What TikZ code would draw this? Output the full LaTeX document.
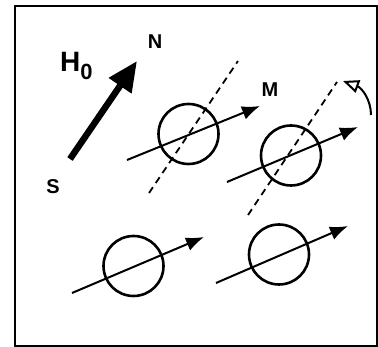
\documentclass[tikz,border=0pt]{standalone}
\usepackage{fontspec}
\setmainfont{Liberation Sans}
\usetikzlibrary{arrows.meta}

\begin{document}
\begin{tikzpicture}[x=1pt, y=-1pt,
    spin/.style={circle, draw, line width=2.6pt, inner sep=0pt, minimum size=60pt},
    moment/.style={-{Latex[length=18pt, width=14pt]}, line width=2pt},
    axisline/.style={line width=1.8pt, dash pattern=on 7pt off 5pt},
    field/.style={-{Triangle[length=30pt, width=26pt]}, line width=6.5pt},
    lbl/.style={font=\bfseries\fontsize{20}{20}\selectfont, inner sep=0pt}
  ]
    \useasboundingbox (0,0) rectangle (378,347);
    \draw[line width=1.5pt] (15,6) rectangle (377,346);

    % field
    \coordinate (south) at (70,159);
    \coordinate (north) at (137,61);
    \draw[field] (south) -- (north);
    \node[lbl] (nlabel) at (155,42) {N};
    \node[lbl] (slabel) at (53,187) {S};
    \node[lbl, anchor=base west] (hlabel) at (60,72) {{\fontsize{28}{28}\selectfont H}\raisebox{-8pt}{\fontsize{22}{22}\selectfont 0}};

    % spins
    \node[spin] (s1) at (188.5,134) {};
    \node[spin] (s2) at (291,155.5) {};
    \node[spin] (s3) at (133.5,266) {};
    \node[spin] (s4) at (279,254.5) {};

    \coordinate (s1a) at (127,160);  \coordinate (s1b) at (260,106);
    \coordinate (s2a) at (227,182);  \coordinate (s2b) at (358,127);
    \coordinate (s3a) at (72,293);   \coordinate (s3b) at (204,237);
    \coordinate (s4a) at (216,283);  \coordinate (s4b) at (348,226);

    \draw[moment] (s1a) -- (s1b);
    \draw[moment] (s2a) -- (s2b);
    \draw[moment] (s3a) -- (s3b);
    \draw[moment] (s4a) -- (s4b);

    \node[lbl] (mlabel) at (270,90) {M};

    % precession axes
    \coordinate (d1a) at (149,193);  \coordinate (d1b) at (238,61);
    \coordinate (d2a) at (248,215);  \coordinate (d2b) at (337,82);
    \draw[axisline] (d1a) -- (d1b);
    \draw[axisline] (d2a) -- (d2b);

    % rotation
    \coordinate (rota) at (371,115);
    \coordinate (rotb) at (343,81);
    \draw[line width=2pt, -{Triangle[open, length=16pt, width=13pt]}]
      (rota) .. controls (371,100) and (362,88) .. (rotb);
\end{tikzpicture}
\end{document}
